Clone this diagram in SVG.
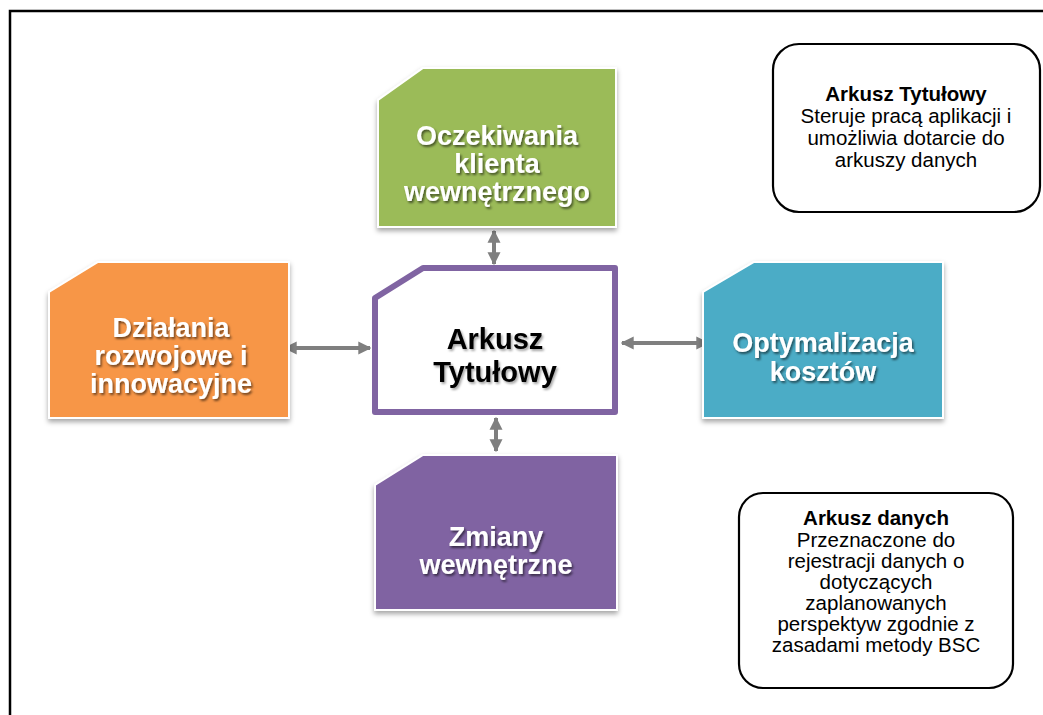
<svg xmlns="http://www.w3.org/2000/svg" width="1043" height="715" viewBox="0 0 1043 715">
<style>
.node{stroke:#ffffff;stroke-width:2;filter:url(#boxsh)}
.lbl{font-family:"Liberation Sans",Arial,sans-serif;font-weight:bold;font-size:27px;fill:#ffffff;text-anchor:middle;filter:url(#txsh)}
.ctr{font-family:"Liberation Sans",Arial,sans-serif;font-weight:bold;font-size:29px;fill:#000000;text-anchor:middle;filter:url(#txsh2)}
.note{fill:#ffffff;stroke:#000000;stroke-width:2.2}
.nt{font-family:"Liberation Sans",Arial,sans-serif;font-size:20.5px;fill:#000000;text-anchor:middle}
.nb{font-weight:bold}
.conn{stroke:#7f7f7f;stroke-width:4;fill:none;marker-start:url(#ah);marker-end:url(#ah)}
</style>
<defs>
<filter id="boxsh" x="-10%" y="-10%" width="120%" height="125%">
<feDropShadow dx="0" dy="3" stdDeviation="2.5" flood-color="#000000" flood-opacity="0.35"/>
</filter>
<filter id="txsh" x="-10%" y="-20%" width="120%" height="150%">
<feDropShadow dx="1.5" dy="2" stdDeviation="1" flood-color="#000000" flood-opacity="0.55"/>
</filter>
<filter id="txsh2" x="-10%" y="-20%" width="120%" height="150%">
<feDropShadow dx="1.5" dy="2" stdDeviation="1" flood-color="#000000" flood-opacity="0.35"/>
</filter>
<marker id="ah" viewBox="0 0 10 10" refX="9" refY="5" markerWidth="13" markerHeight="14" markerUnits="userSpaceOnUse" orient="auto-start-reverse">
<path d="M0,0 L10,5 L0,10 z" fill="#7f7f7f"/>
</marker>
</defs>
<rect x="0" y="0" width="1043" height="715" fill="#ffffff"/>
<path d="M10,716 L10,11 L1044,11" fill="none" stroke="#000000" stroke-width="2.5"/>

<g id="connectors">
<line class="conn" x1="494" y1="231" x2="494" y2="264"/>
<line class="conn" x1="285" y1="348" x2="370" y2="348"/>
<line class="conn" x1="622" y1="343" x2="708" y2="343"/>
<line class="conn" x1="496" y1="418" x2="496" y2="451"/>
</g>

<g id="node-green">
<path class="node" d="M378,100 L423,68 L616,68 L616,227 L378,227 z" fill="#9bbb59"/>
<text class="lbl" x="497" y="145">Oczekiwania</text>
<text class="lbl" x="497" y="173">klienta</text>
<text class="lbl" x="497" y="201">wewnętrznego</text>
</g>

<g id="node-orange">
<path class="node" d="M49,292 L98,262 L289,262 L289,418 L49,418 z" fill="#f79646"/>
<text class="lbl" x="171" y="337">Działania</text>
<text class="lbl" x="171" y="365">rozwojowe i</text>
<text class="lbl" x="171" y="393">innowacyjne</text>
</g>

<g id="node-center">
<path d="M375,298 L423,268 L615,268 L615,412 L375,412 z" fill="#ffffff" stroke="#8064a2" stroke-width="6" stroke-linejoin="round"/>
<text class="ctr" x="495" y="349">Arkusz</text>
<text class="ctr" x="495" y="382">Tytułowy</text>
</g>

<g id="node-teal">
<path class="node" d="M703,292 L754,262 L943,262 L943,418 L703,418 z" fill="#4bacc6"/>
<text class="lbl" x="823" y="352">Optymalizacja</text>
<text class="lbl" x="823" y="381">kosztów</text>
</g>

<g id="node-purple">
<path class="node" d="M375,485 L423,455 L617,455 L617,610 L375,610 z" fill="#8064a2"/>
<text class="lbl" x="496" y="546">Zmiany</text>
<text class="lbl" x="496" y="574">wewnętrzne</text>
</g>

<g id="note-title">
<rect class="note" x="773" y="44" width="267" height="168" rx="26" ry="26"/>
<text class="nt nb" x="906" y="101">Arkusz Tytułowy</text>
<text class="nt" x="906" y="123">Steruje pracą aplikacji i</text>
<text class="nt" x="906" y="145">umożliwia dotarcie do</text>
<text class="nt" x="906" y="167">arkuszy danych</text>
</g>

<g id="note-data">
<rect class="note" x="739" y="493" width="274" height="195" rx="24" ry="24"/>
<text class="nt nb" x="876" y="525">Arkusz danych</text>
<text class="nt" x="876" y="547">Przeznaczone do</text>
<text class="nt" x="876" y="568">rejestracji danych o</text>
<text class="nt" x="876" y="589">dotyczących</text>
<text class="nt" x="876" y="610">zaplanowanych</text>
<text class="nt" x="876" y="631">perspektyw zgodnie z</text>
<text class="nt" x="876" y="652">zasadami metody BSC</text>
</g>
</svg>
